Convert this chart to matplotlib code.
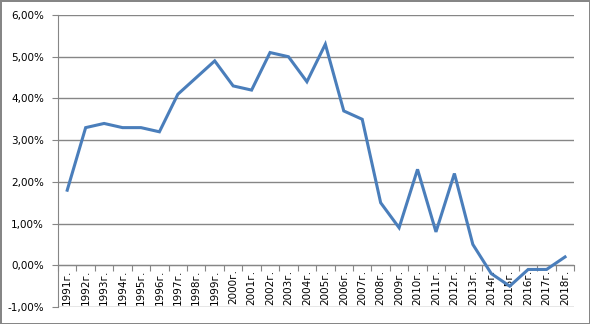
import matplotlib
matplotlib.use('Agg')
import matplotlib.pyplot as plt
import numpy as np

years = [f'{y}г.' for y in range(1991, 2019)]
values = [1.8, 3.3, 3.4, 3.3, 3.3, 3.2, 4.1, 4.5, 4.9, 4.3, 4.2, 5.1, 5.0, 4.4,
          5.3, 3.7, 3.5, 1.5, 0.9, 2.3, 0.8, 2.2, 0.5, -0.2, -0.5, -0.1, -0.1, 0.2]
yticks = [-1, 0, 1, 2, 3, 4, 5, 6]

grid_col = '#868686'
fig = plt.figure(figsize=(5.9, 3.24), dpi=100)
fig.patch.set_edgecolor(grid_col)
fig.patch.set_linewidth(1.0)
ax = fig.add_axes([0.0983, 0.0525, 0.875, 0.9012])

x = np.arange(len(values))
ax.plot(x, values, color='#4A7EBB', linewidth=2.2, solid_joinstyle='miter', zorder=3)

ax.set_xlim(-0.5, len(values) - 0.5)
ax.set_ylim(-1, 6)
ax.set_yticks(yticks)
ax.set_yticklabels([f'{v:.2f}%'.replace('.', ',') for v in yticks], fontsize=7.5)
ax.yaxis.grid(True, color=grid_col, linewidth=1)
ax.set_axisbelow(True)

for s in ['top', 'right']:
    ax.spines[s].set_visible(False)
ax.spines['left'].set_color(grid_col)
ax.spines['bottom'].set_color(grid_col)
ax.spines['bottom'].set_position(('data', 0))
ax.tick_params(axis='y', colors=grid_col, length=4, pad=6, labelcolor='black')

# category ticks between points, labels at points
ax.set_xticks(np.arange(-0.5, len(values), 1))
ax.set_xticklabels([])
ax.set_xticks(x, minor=True)
ax.set_xticklabels(years, minor=True, rotation=90, fontsize=7.5, va='top')
ax.tick_params(axis='x', which='major', direction='out', length=4, color=grid_col)
ax.tick_params(axis='x', which='minor', length=0, pad=3)

fig.savefig('out.png', dpi=100, edgecolor=fig.get_edgecolor())
